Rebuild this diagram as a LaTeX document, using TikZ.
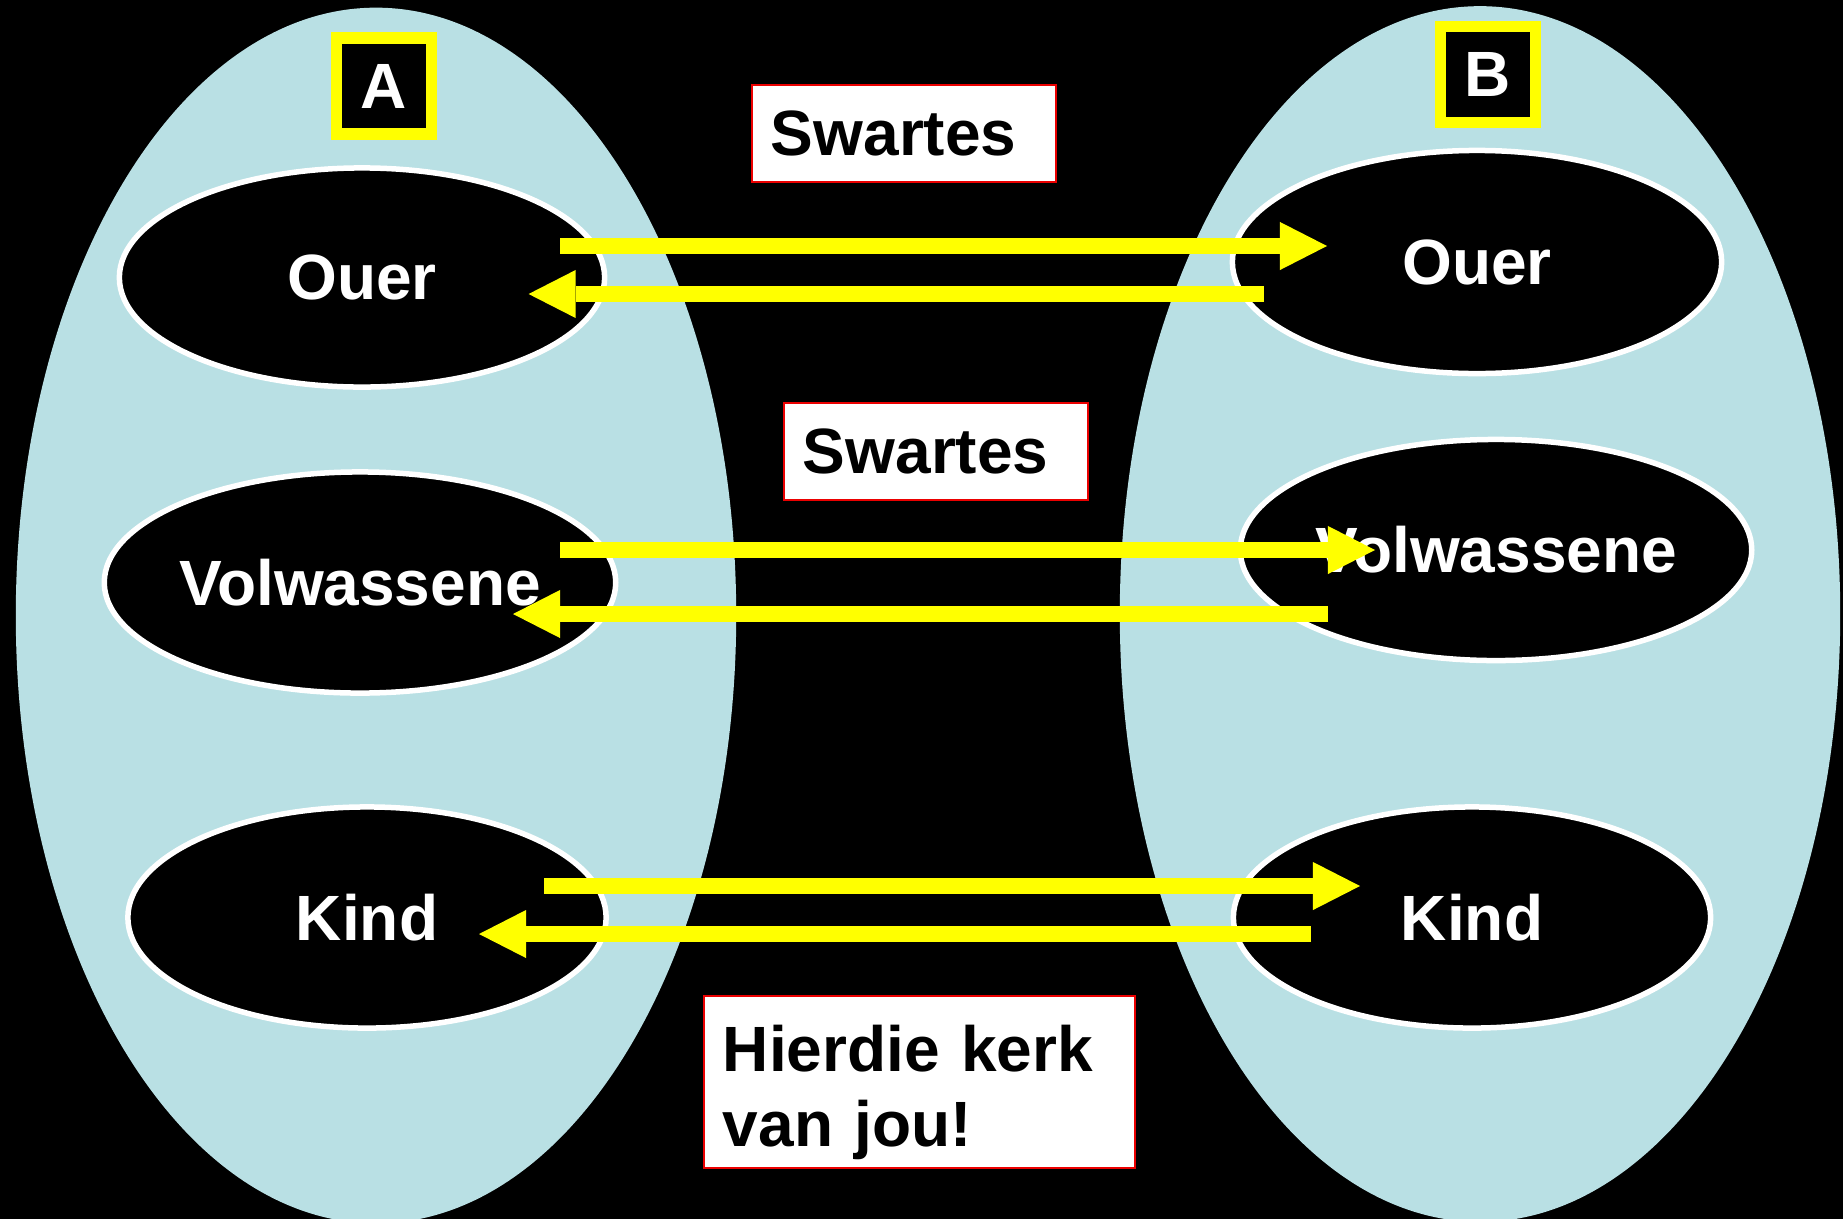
\documentclass[tikz,border=0pt]{standalone}
\usepackage{fontspec}
\setmainfont{Liberation Sans}
\usetikzlibrary{shapes.geometric,arrows.meta}
\definecolor{paleblue}{RGB}{185,224,228}
\definecolor{ayellow}{RGB}{255,255,0}
\definecolor{boxred}{RGB}{235,0,0}
\begin{document}
\begin{tikzpicture}[x=0.01cm,y=-0.01cm,
  txt/.style={font=\fontsize{18.2pt}{21.34pt}\selectfont\bfseries},
  bigell/.style={ellipse, fill=paleblue, minimum width=7.2cm, minimum height=12.15cm, inner sep=0pt},
  smallell/.style={ellipse, draw=white, line width=0.055cm, fill=black, text=white, txt, inner sep=0pt},
  letterbox/.style={draw=ayellow, line width=0.115cm, fill=black, text=white, txt, minimum width=0.95cm, minimum height=0.96cm, inner sep=0pt},
  redbox/.style={draw=boxred, line width=0.025cm, fill=white, text=black, txt, align=left, inner xsep=0.19cm, inner ysep=0pt},
  yarrow/.style={draw=ayellow, line width=0.16cm, -{Triangle[length=0.47cm,width=0.48cm,line width=0pt]}}
]
\useasboundingbox (0,0) rectangle (1843,1218);
\fill[black] (-20,-20) rectangle (1863,1238);

% big group ellipses
\node[bigell] (bigA) at (376,615.5) {};
\node[bigell] (bigB) at (1480,614) {};

% letter boxes
\node[letterbox] (A) at (384,86) {A};
\node[letterbox] (B) at (1488,74.5) {B};

% small ellipses
\node[smallell, minimum width=4.85cm, minimum height=2.19cm] (lo) at (362,277.5) {Ouer};
\node[smallell, minimum width=4.92cm, minimum height=2.21cm] (lv) at (360,582.5) {Volwassene};
\node[smallell, minimum width=4.78cm, minimum height=2.21cm] (lk) at (367,917.5) {Kind};
\node[smallell, minimum width=4.89cm, minimum height=2.23cm] (ro) at (1477,262) {Ouer};
\node[smallell, minimum width=4.93cm, minimum height=2.21cm] (rv) at (1496,550) {Volwassene};
\node[smallell, minimum width=4.77cm, minimum height=2.21cm] (rk) at (1472,917.5) {Kind};

% label boxes
\node[redbox, text width=2.66cm, minimum height=0.97cm] (s1) at (904,133.5) {Swartes};
\node[redbox, text width=2.66cm, minimum height=0.97cm] (s2) at (936,451.5) {Swartes};
\node[redbox, text width=3.93cm, minimum height=1.72cm, text height=0.47cm, text depth=0.69cm] (hk) at (919.5,1082) {Hierdie kerk\\van jou!};

% arrow end points
\coordinate (t1s) at (560,246);  \coordinate (t1e) at (1327,246);
\coordinate (t2s) at (1264,294); \coordinate (t2e) at (528.6,294);
\coordinate (m1s) at (560,550);  \coordinate (m1e) at (1375,550);
\coordinate (m2s) at (1328,614); \coordinate (m2e) at (513,614);
\coordinate (b1s) at (544,886);  \coordinate (b1e) at (1360,886);
\coordinate (b2s) at (1311,934); \coordinate (b2e) at (479,934);

\draw[yarrow] (t1s) -- (t1e);
\draw[yarrow] (t2s) -- (t2e);
\draw[yarrow] (m1s) -- (m1e);
\draw[yarrow] (m2s) -- (m2e);
\draw[yarrow] (b1s) -- (b1e);
\draw[yarrow] (b2s) -- (b2e);
\end{tikzpicture}
\end{document}
